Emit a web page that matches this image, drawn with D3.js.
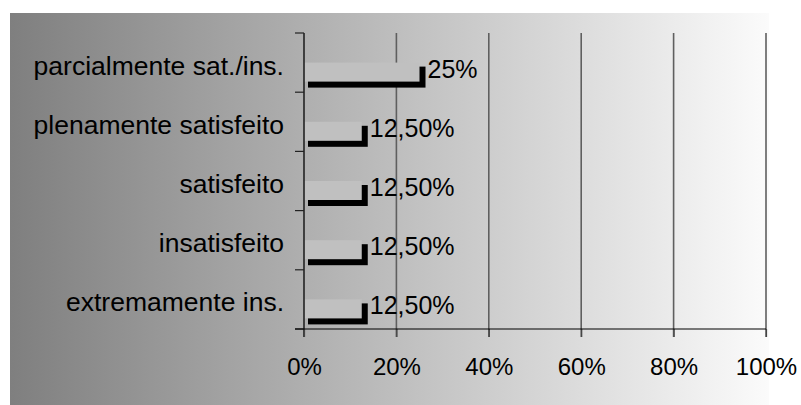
<!DOCTYPE html>
<html>
<head>
<meta charset="utf-8">
<script src="https://cdn.jsdelivr.net/npm/d3@7"></script>
<style>
  html, body { margin: 0; padding: 0; background: #fff; }
  svg text { font-family: Arial, "Liberation Sans", sans-serif; fill: #000; }
</style>
</head>
<body>
<svg id="chart" width="801" height="405"></svg>
<script>
// Satisfaction survey results (top to bottom)
const categories = [
  "parcialmente sat./ins.",
  "plenamente satisfeito",
  "satisfeito",
  "insatisfeito",
  "extremamente ins."
];
const values = [0.25, 0.125, 0.125, 0.125, 0.125];
const valueLabels = ["25%", "12,50%", "12,50%", "12,50%", "12,50%"];
const tickValues = [0, 0.2, 0.4, 0.6, 0.8, 1.0];
const tickLabels = ["0%", "20%", "40%", "60%", "80%", "100%"];

const svg = d3.select("#chart");
const tickFont = 24;
const valueFont = 25;
const catFont = 26.5;

// Background panel with horizontal grey gradient
const defs = svg.append("defs");
const grad = defs.append("linearGradient").attr("id", "bg").attr("x1", "0").attr("x2", "1").attr("y1", "0").attr("y2", "0");
grad.append("stop").attr("offset", "0%").attr("stop-color", "#7f7f7f");
grad.append("stop").attr("offset", "100%").attr("stop-color", "#fbfbfb");
svg.append("rect").attr("x", 10).attr("y", 13).attr("width", 759).attr("height", 392).attr("fill", "url(#bg)");

const x = d3.scaleLinear().domain([0, 1]).range([304, 766]);
const y = d3.scaleBand().domain(categories).range([33, 329]).padding(0);

// Vertical gridlines
svg.append("g").selectAll("line").data(tickValues.slice(1)).join("line")
  .attr("x1", d => x(d)).attr("x2", d => x(d))
  .attr("y1", 33).attr("y2", 337)
  .attr("stroke", "#5f5f5f").attr("stroke-width", 1.6);

// Bars: light face with a dark offset shadow
const depth = 5;
const faceH = 19;
const bars = svg.append("g").selectAll("g").data(categories).join("g");
bars.append("rect")
  .attr("x", x(0) + 4)
  .attr("y", d => y(d) + y.bandwidth() / 2 + 4)
  .attr("width", (d, i) => x(values[i]) - x(0) + depth + 1 - 4)
  .attr("height", faceH + depth - 4 + 1)
  .attr("fill", "#000");
bars.append("rect")
  .attr("x", x(0))
  .attr("y", d => y(d) + y.bandwidth() / 2)
  .attr("width", (d, i) => x(values[i]) - x(0))
  .attr("height", faceH)
  .attr("fill", "#c0c0c0");

// Value labels
bars.append("text")
  .attr("x", (d, i) => x(values[i]) + depth + 3)
  .attr("y", d => y(d) + y.bandwidth() / 2 + 15)
  .attr("font-size", valueFont)
  .text((d, i) => valueLabels[i]);

// Category axis
const yAxis = svg.append("g").attr("transform", `translate(${x(0)},0)`)
  .call(d3.axisLeft(y).tickSize(0).tickFormat(""));
yAxis.select(".domain").remove();
yAxis.append("line").attr("x1", 0).attr("x2", 0).attr("y1", 33).attr("y2", 337).attr("stroke", "#222").attr("stroke-width", 1.6);
const boundaries = categories.map(c => y(c)).concat([y.range()[1]]);
yAxis.append("g").selectAll("line").data(boundaries).join("line")
  .attr("x1", -9).attr("x2", 0).attr("y1", d => d).attr("y2", d => d)
  .attr("stroke", "#222").attr("stroke-width", 1.2);
yAxis.append("g").selectAll("text").data(categories).join("text")
  .attr("x", -20)
  .attr("y", d => y(d) + y.bandwidth() / 2 + 12)
  .attr("text-anchor", "end")
  .attr("font-size", catFont)
  .text(d => d);

// Value axis
const xAxis = svg.append("g").attr("transform", "translate(0,329)")
  .call(d3.axisBottom(x).tickValues(tickValues).tickSize(8).tickFormat((d, i) => tickLabels[i]));
xAxis.select(".domain").remove();
xAxis.append("line").attr("x1", x(0) - 9).attr("x2", x(1)).attr("y1", 0).attr("y2", 0).attr("stroke", "#000").attr("stroke-width", 1.2);
xAxis.selectAll(".tick line").attr("stroke", "#444").attr("stroke-width", 1.2);
xAxis.selectAll(".tick text")
  .attr("y", 46).attr("dy", null)
  .attr("font-size", tickFont)
  .attr("font-family", "Arial, 'Liberation Sans', sans-serif")
  .attr("fill", "#000");
</script>
</body>
</html>
